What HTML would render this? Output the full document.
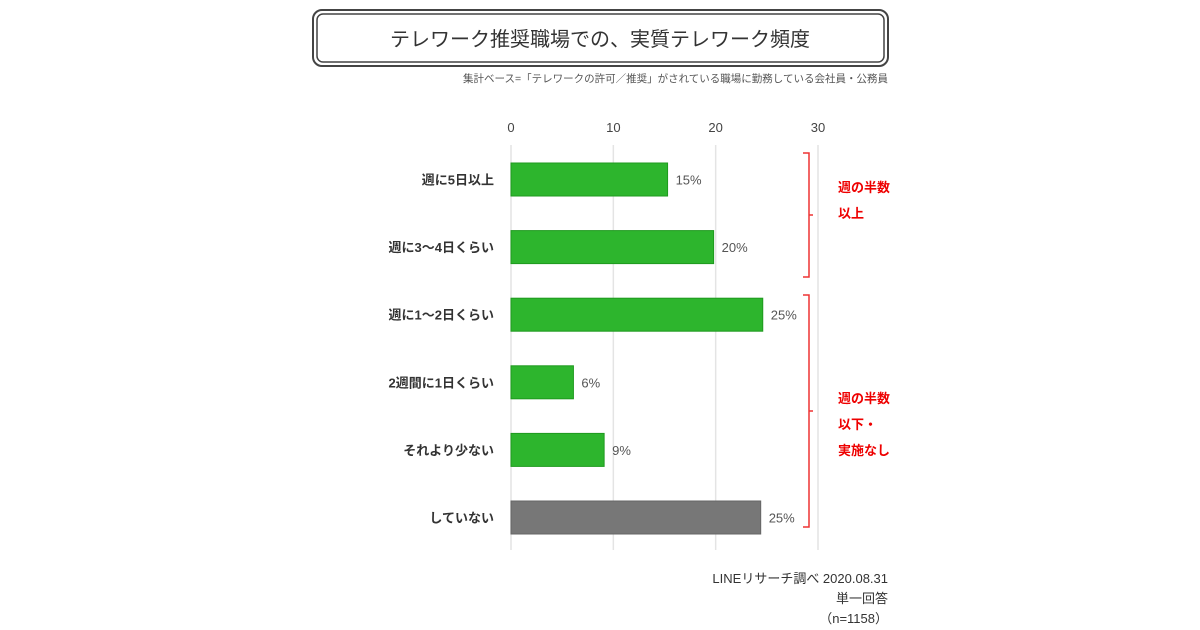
<!DOCTYPE html>
<html><head><meta charset="utf-8">
<style>
body{margin:0;background:#fff;}
svg{display:block;font-family:"Liberation Sans","Noto Sans CJK JP",sans-serif;}
</style></head>
<body>
<svg id="c" width="1200" height="630" viewBox="0 0 1200 630">
<rect x="313" y="10" width="575" height="56" rx="9" fill="none" stroke="#444" stroke-width="2"/>
<rect x="317" y="14" width="567" height="48" rx="6" fill="none" stroke="#444" stroke-width="1.5"/>
<text x="600" y="46" text-anchor="middle" font-size="20" fill="#333">テレワーク推奨職場での、実質テレワーク頻度</text>
<text x="888" y="82" text-anchor="end" font-size="10.5" fill="#555">集計ベース=「テレワークの許可／推奨」がされている職場に勤務している会社員・公務員</text>
<g id="grid"></g>
<g id="bars"></g>
<g>
<path d="M803 153 H809 V277 H803 M809 215 H813" fill="none" stroke="#e33" stroke-width="1.5"/>
<path d="M803 295 H809 V527 H803 M809 411 H813" fill="none" stroke="#e33" stroke-width="1.5"/>
</g>
<g font-size="13" font-weight="bold" fill="#e00">
<text x="838" y="192">週の半数</text>
<text x="838" y="218">以上</text>
<text x="838" y="403">週の半数</text>
<text x="838" y="429">以下・</text>
<text x="838" y="455">実施なし</text>
</g>
<g font-size="13" fill="#333" text-anchor="end">
<text x="888" y="583">LINEリサーチ調べ 2020.08.31</text>
<text x="888" y="603">単一回答</text>
<text x="888" y="623">（n=1158）</text>
</g>
</svg>
<script>
const categories=["週に5日以上","週に3〜4日くらい","週に1〜2日くらい","2週間に1日くらい","それより少ない","していない"];
const values=[15.3,19.8,24.6,6.1,9.1,24.4];
const valueLabels=["15%","20%","25%","6%","9%","25%"];
const ticks=[0,10,20,30];
const NS="http://www.w3.org/2000/svg";
const x0=511,x1=818,xmax=30;
const xs=v=>x0+(x1-x0)*v/xmax;
const yTop=163,step=67.6,bh=33;
const ys=i=>yTop+i*step;
function mk(t,a,p){const e=document.createElementNS(NS,t);for(const k in a)e.setAttribute(k,a[k]);p.appendChild(e);return e;}
const g=document.getElementById('grid'),b=document.getElementById('bars');
ticks.forEach(t=>{
 const l=mk('line',{x1:xs(t),x2:xs(t),y1:145,y2:550,stroke:'#e4e4e4','stroke-width':1.5},g);
 
 
 const tx=mk('text',{x:xs(t),y:132,'text-anchor':'middle','font-size':13,fill:'#444'},g);
 tx.textContent=t;
 
 
});
categories.forEach((c,i)=>{
 const y=ys(i),gray=i===categories.length-1;
 const r=mk('rect',{x:x0,y:y,width:xs(values[i])-x0,height:bh,fill:gray?'#777':'#2db52d',stroke:gray?'#666':'#1e9a1e','stroke-width':1},b);
 
 
 const lt=mk('text',{x:494,y:y+bh/2+5,'text-anchor':'end','font-size':13,'font-weight':'bold',fill:'#333'},b);
 lt.textContent=c;
 
 
 const vt=mk('text',{x:xs(values[i])+8,y:y+bh/2+5,'font-size':13,fill:'#555'},b);
 vt.textContent=valueLabels[i];
 
 
});
</script>
</body></html>
